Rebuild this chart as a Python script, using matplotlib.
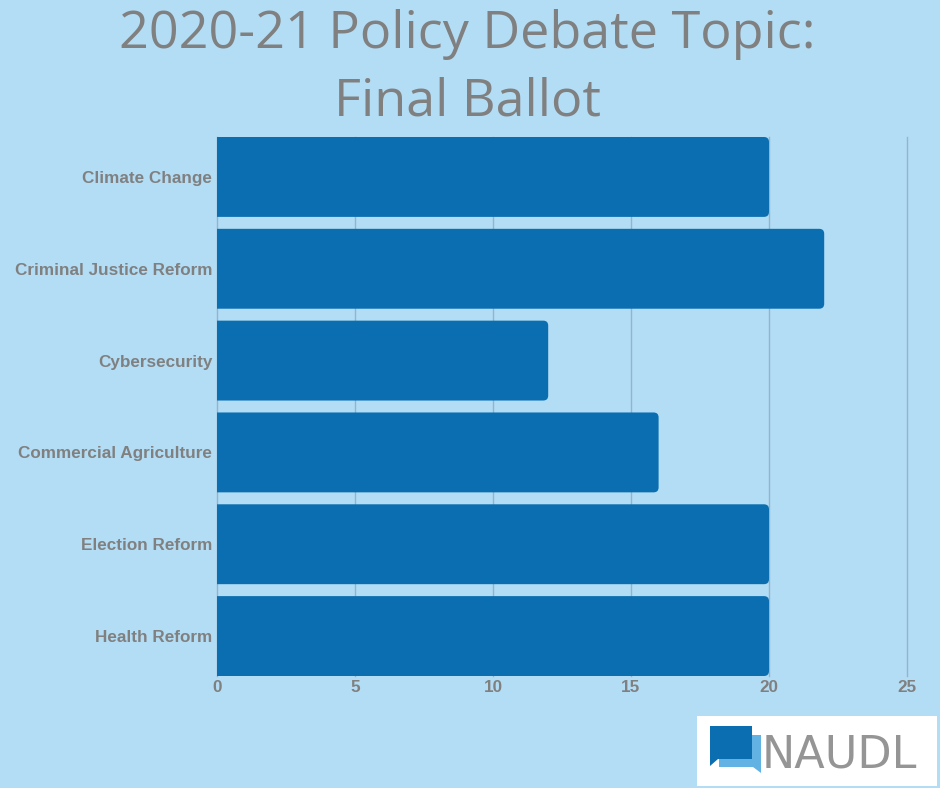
import matplotlib
matplotlib.use("Agg")
import matplotlib.pyplot as plt
from matplotlib.patches import FancyBboxPatch, Rectangle, Polygon

# chart data
topics = ['Climate Change', 'Criminal Justice Reform', 'Cybersecurity',
          'Commercial Agriculture', 'Election Reform', 'Health Reform']
votes = [20, 22, 12, 16, 20, 20]
x_ticks = [0, 5, 10, 15, 20, 25]

bg = '#b3ddf5'
bar_color = '#0a6eb0'
text_grey = '#808080'

fig = plt.figure(figsize=(9.4, 7.88), dpi=100, facecolor=bg)
ax = fig.add_axes([217 / 940, 1 - 676 / 788, 690 / 940, 539 / 788])
ax.set_facecolor(bg)

bar_h = 0.87
bars = ax.barh(range(len(topics)), votes, height=bar_h, color=bar_color)
ax.set_ylim(len(topics) - 1 + bar_h / 2, -bar_h / 2)
ax.set_xlim(0, 25)

# swap the plain rectangles for ones with rounded right corners
px_x = 690 / 25
px_y = 539 / (len(topics) - 1 + bar_h)
for b in bars:
    x0, y0 = b.get_x(), b.get_y()
    w, h = b.get_width(), b.get_height()
    b.set_visible(False)
    rr = FancyBboxPatch((x0 - 0.5, y0), w + 0.5, h,
                        boxstyle='round,pad=0,rounding_size=%f' % (5 / px_x),
                        mutation_aspect=px_x / px_y,
                        facecolor=bar_color, edgecolor='none', zorder=3)
    ax.add_patch(rr)

ax.set_xticks(x_ticks)
ax.set_yticks(range(len(topics)))
ax.set_yticklabels(topics)
ax.grid(axis='x', color='#94b4c8', linewidth=1, zorder=0)
for gl in ax.xaxis.get_gridlines():
    gl.set_clip_on(False)
ax.set_axisbelow(True)
for s in ax.spines.values():
    s.set_visible(False)
ax.tick_params(length=0, labelcolor=text_grey, labelsize=12.3)
ax.tick_params(axis='y', pad=3.5)
ax.tick_params(axis='x', pad=3)
for lab in ax.get_xticklabels() + ax.get_yticklabels():
    lab.set_fontfamily('Liberation Sans')
    lab.set_fontweight('bold')

# title
fig.text(0.497, 1 - 48 / 788, '2020-21 Policy Debate Topic:', ha='center',
         va='baseline', fontsize=37.5, color=text_grey, family='Open Sans')
fig.text(0.497, 1 - 116 / 788, 'Final Ballot', ha='center',
         va='baseline', fontsize=37.5, color=text_grey, family='Open Sans')

# NAUDL logo box
W, H = 940, 788
fig.patches.append(Rectangle((697 / W, 1 - 786 / H), 240 / W, 70 / H,
                             transform=fig.transFigure, facecolor='white',
                             edgecolor='none'))
fig.patches.append(Polygon([(719 / W, 1 - 735 / H), (761 / W, 1 - 735 / H),
                            (761 / W, 1 - 773 / H), (753 / W, 1 - 767 / H),
                            (719 / W, 1 - 767 / H)],
                           transform=fig.transFigure, facecolor='#62b2e4',
                           edgecolor='none'))
fig.patches.append(Polygon([(710 / W, 1 - 726 / H), (752 / W, 1 - 726 / H),
                            (752 / W, 1 - 759 / H), (718 / W, 1 - 759 / H),
                            (710 / W, 1 - 766 / H)],
                           transform=fig.transFigure, facecolor='#0a6eb0',
                           edgecolor='none'))
fig.text(762 / W, 1 - 767 / H, 'NAUDL', ha='left', va='baseline', fontsize=32,
         color='#959595', family='DejaVu Sans')

fig.savefig('out.png', dpi=100, facecolor=bg)
